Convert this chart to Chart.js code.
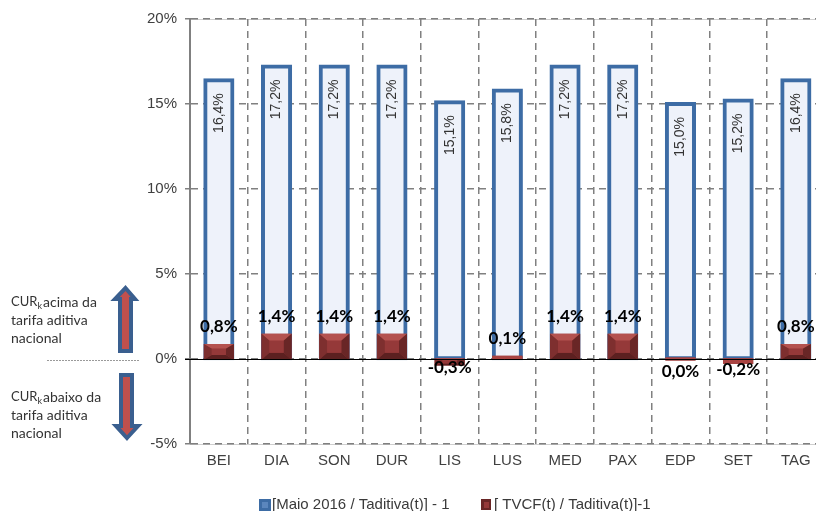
<!DOCTYPE html>
<html lang="pt">
<head>
<meta charset="utf-8">
<title>CUR tarifa aditiva</title>
<script src="https://cdn.jsdelivr.net/npm/chart.js@4/dist/chart.umd.min.js"></script>
<style>
    html, body { margin: 0; padding: 0; background: #fff; overflow: hidden; }
    canvas { display: block; }
</style>
</head>
<body>
<canvas id="chart" width="830" height="511"></canvas>
<script>
const categories = ["BEI", "DIA", "SON", "DUR", "LIS", "LUS", "MED", "PAX", "EDP", "SET", "TAG"];
const maioValues = [16.4, 17.2, 17.2, 17.2, 15.1, 15.8, 17.2, 17.2, 15.0, 15.2, 16.4];
const tvcfValues = [0.8, 1.4, 1.4, 1.4, -0.3, 0.1, 1.4, 1.4, 0.0, -0.2, 0.8];
const seriesNames = ["[Maio 2016 / Taditiva(t)] - 1", "[ TVCF(t) / Taditiva(t)]-1"];

const SANS = '"Liberation Sans", Arial, sans-serif';
const NOTE = 'Lato, "Open Sans", sans-serif';
const RED_INFLATE = 1.5;

// etiquetas negativas ficam mais perto da barra, em cima da linha do zero
const belowLabelGap = { LIS: 3, EDP: 13, SET: 7 };

const pct = v => v.toFixed(1).replace(".", ",") + "%";

function polygon(ctx, pts, fill) {
    ctx.beginPath();
    pts.forEach((p, i) => (i ? ctx.lineTo(p[0], p[1]) : ctx.moveTo(p[0], p[1])));
    ctx.closePath();
    ctx.fillStyle = fill;
    ctx.fill();
}

// barra vermelha com aspeto chanfrado, a partir do retângulo do próprio elemento
function drawBevel(ctx, bar) {
    const { x, y, base, width } = bar.getProps(["x", "y", "base", "width"], true);
    const l = x - width / 2 - RED_INFLATE, r = x + width / 2 + RED_INFLATE;
    const t = Math.min(y, base) - RED_INFLATE, b = Math.max(y, base) + RED_INFLATE;
    const h = b - t;
    if (h < 7) {
        polygon(ctx, [[l, t], [r, t], [r, b], [l, b]], "#a94442");
        return;
    }
    const d = 8;
    const d2 = Math.min(7, h * 0.3);
    polygon(ctx, [[l, t], [r, t], [r - d, t + d2], [l + d, t + d2]], "#b4524f");
    polygon(ctx, [[l, t], [l + d, t + d2], [l + d, b - d2], [l, b]], "#7e2f2f");
    polygon(ctx, [[r, t], [r - d, t + d2], [r - d, b - d2], [r, b]], "#692626");
    polygon(ctx, [[l, b], [l + d, b - d2], [r - d, b - d2], [r, b]], "#5c2020");
    polygon(ctx, [[l + d, t + d2], [r - d, t + d2], [r - d, b - d2], [l + d, b - d2]], "#953939");
}

function arrow(ctx, pts) {
    ctx.beginPath();
    pts.forEach((p, i) => (i ? ctx.lineTo(p[0], p[1]) : ctx.moveTo(p[0], p[1])));
    ctx.closePath();
    ctx.fillStyle = "#c0504d";
    ctx.fill();
    ctx.strokeStyle = "#3a5f8f";
    ctx.lineWidth = 4;
    ctx.lineJoin = "miter";
    ctx.stroke();
}

function noteLines(ctx, x, y, lines) {
    ctx.font = "14px " + NOTE;
    ctx.fillStyle = "#333";
    ctx.textAlign = "left";
    ctx.textBaseline = "middle";
    lines.forEach((line, i) => {
        const yy = y + i * 18;
        if (i === 0) {
            ctx.font = "13px " + NOTE;
            ctx.fillText("CUR", x, yy);
            const w = ctx.measureText("CUR").width;
            ctx.font = "9px " + NOTE;
            ctx.fillText("k", x + w, yy + 4);
            ctx.font = "14px " + NOTE;
            ctx.fillText(line, x + 32, yy);
        } else {
            ctx.fillText(line, x, yy);
        }
    });
}

const plotDecor = {
    id: "plotDecor",
    beforeDraw(chart) {
        const { ctx, chartArea: a } = chart;
        ctx.save();
        ctx.strokeStyle = "#cfcfcf";
        ctx.lineWidth = 1;
        ctx.beginPath();
        ctx.moveTo(a.left, a.top + 0.5);
        ctx.lineTo(a.right, a.top + 0.5);
        ctx.moveTo(a.left, a.bottom + 0.5);
        ctx.lineTo(a.right, a.bottom + 0.5);
        ctx.stroke();
        ctx.restore();
    },
    afterDatasetsDraw(chart) {
        const { ctx, scales } = chart;
        const blue = chart.getDatasetMeta(0).data;
        const red = chart.getDatasetMeta(1).data;
        const zero = Math.round(scales.y.getPixelForValue(0)) + 0.5;

        ctx.save();
        red.forEach(bar => drawBevel(ctx, bar));

        // linha do zero por cima das barras
        ctx.strokeStyle = "#000";
        ctx.lineWidth = 1;
        ctx.beginPath();
        ctx.moveTo(scales.x.left - 5, zero);
        ctx.lineTo(scales.x.right, zero);
        ctx.stroke();

        // valores da primeira série, na vertical dentro da barra
        ctx.fillStyle = "#333";
        ctx.font = "14px " + SANS;
        ctx.textAlign = "right";
        ctx.textBaseline = "middle";
        blue.forEach((bar, i) => {
            ctx.save();
            ctx.translate(bar.x, bar.y + 13);
            ctx.rotate(-Math.PI / 2);
            ctx.fillText(pct(maioValues[i]), 0, 0);
            ctx.restore();
        });

        // valores da segunda série
        ctx.fillStyle = "#000";
        ctx.font = "bold 17px " + NOTE;
        ctx.textAlign = "center";
        red.forEach((bar, i) => {
            const gap = belowLabelGap[categories[i]];
            const yy = gap !== undefined ? bar.y + gap : bar.y - 19;
            ctx.fillText(pct(tvcfValues[i]), bar.x, yy);
        });
        ctx.restore();
    },
    afterDraw(chart) {
        const { ctx } = chart;
        ctx.save();

        // legenda
        ctx.textBaseline = "middle";
        ctx.textAlign = "left";
        ctx.font = "15px " + SANS;
        ctx.fillStyle = "#3a3a3a";
        ctx.fillText(seriesNames[0], 272, 505);
        ctx.fillText(seriesNames[1], 494, 505);
        ctx.strokeStyle = "#3d6ca5";
        ctx.lineWidth = 3;
        ctx.fillStyle = "#5b86bd";
        ctx.fillRect(260.5, 500.5, 9, 9);
        ctx.strokeRect(260.5, 500.5, 9, 9);
        polygon(ctx, [[481, 499], [491, 499], [491, 510], [481, 510]], "#692626");
        polygon(ctx, [[484, 502], [489, 502], [489, 508], [484, 508]], "#953939");

        // setas e notas à esquerda do eixo
        arrow(ctx, [[125.5, 288], [135, 299], [131, 299], [131, 351], [120, 351], [120, 299], [115, 299]]);
        arrow(ctx, [[127, 438], [138, 426], [132, 426], [132, 375], [121, 375], [121, 426], [116, 426]]);

        noteLines(ctx, 11, 302, ["acima da", "tarifa aditiva", "nacional"]);
        noteLines(ctx, 11, 397, ["abaixo da", "tarifa aditiva", "nacional"]);

        ctx.strokeStyle = "#9a9a9a";
        ctx.lineWidth = 1;
        ctx.setLineDash([2, 1]);
        ctx.beginPath();
        ctx.moveTo(47, 360.5);
        ctx.lineTo(140, 360.5);
        ctx.stroke();
        ctx.restore();
    }
};

new Chart(document.getElementById("chart"), {
    type: "bar",
    data: {
        labels: categories,
        datasets: [
            {
                label: seriesNames[0],
                data: maioValues,
                backgroundColor: "#eef2fa",
                borderColor: "#3d6ca5",
                borderWidth: 4,
                borderSkipped: false,
                inflateAmount: 2,
                grouped: false,
                order: 2,
                barPercentage: 0.47,
                categoryPercentage: 1
            },
            {
                label: seriesNames[1],
                data: tvcfValues,
                backgroundColor: "#953939",
                borderWidth: 0,
                inflateAmount: RED_INFLATE,
                grouped: false,
                order: 1,
                barPercentage: 0.47,
                categoryPercentage: 1
            }
        ]
    },
    options: {
        responsive: false,
        animation: false,
        layout: { padding: { left: 100, top: 19, right: 5.3, bottom: 0 } },
        plugins: {
            legend: { display: false },
            tooltip: { enabled: false }
        },
        scales: {
            x: {
                afterFit: s => { s.height = 67; },
                border: { display: false, dash: [7, 5] },
                grid: {
                    offset: true,
                    drawTicks: false,
                    color: "#808080",
                    lineWidth: 1.5
                },
                ticks: {
                    padding: 8,
                    maxRotation: 0,
                    autoSkip: false,
                    color: "#404040",
                    font: { family: SANS, size: 15 }
                }
            },
            y: {
                min: -5,
                max: 20,
                afterFit: s => { s.width = 90; },
                border: { color: "#808080", width: 2, dash: [7, 5] },
                grid: {
                    color: "#808080",
                    lineWidth: 1.5,
                    tickLength: 5
                },
                ticks: {
                    stepSize: 5,
                    padding: 8,
                    color: "#404040",
                    font: { family: SANS, size: 15 },
                    callback: v => v + "%"
                }
            }
        }
    },
    plugins: [plotDecor]
});
</script>
</body>
</html>
